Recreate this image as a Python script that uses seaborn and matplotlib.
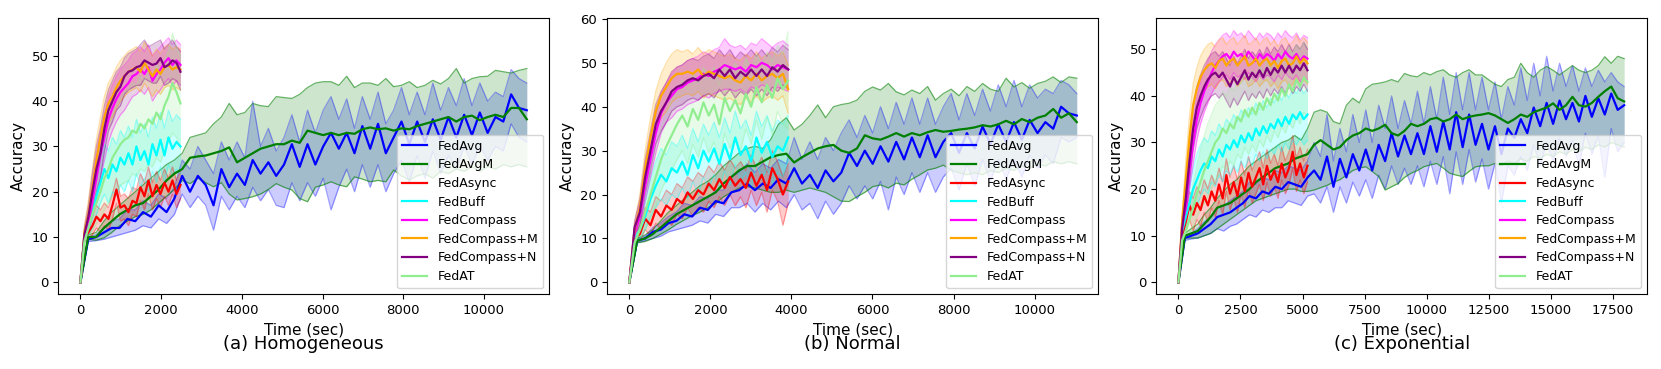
import numpy as np
import matplotlib
matplotlib.use("Agg")
import matplotlib.pyplot as plt
import seaborn as sns

METHODS = ["FedAvg", "FedAvgM", "FedAsync", "FedBuff", "FedCompass",
           "FedCompass+M", "FedCompass+N", "FedAT"]
COLORS = ["blue", "green", "red", "cyan", "magenta", "orange", "purple", "lightgreen"]
TITLES = ["(a) Homogeneous", "(b) Normal", "(c) Exponential"]
LONG_END = [11062, 11040, 17960]
SHORT_END = [2480, 3920, 5200]

# ---------------- (a) Homogeneous ----------------
H_AVG = [0, 9.5, 10, 11, 12, 12, 14, 13.5, 15.5, 14.5, 17, 15.5, 18.5, 23.5, 20, 23.5, 21.5, 17, 25, 21, 24, 21.5, 27, 24, 26.5, 23.5, 26, 30.5, 25.5, 30.5, 26, 30, 33, 29.5, 33, 28.5, 34.5, 29.5, 35, 28.5, 32, 35.5, 30.5, 35.5, 31, 36, 31.5, 36.5, 32, 37, 32.5, 37.5, 33, 36.5, 35.5, 41.5, 38.5, 38]
H_AVG_HI = [0, 10, 10.5, 12, 13.5, 14, 16, 16, 18, 17, 19.5, 18.5, 21, 27, 25, 30, 27, 24, 31, 27, 31, 27.5, 40, 30, 34, 29, 32, 37, 31, 38, 33, 38, 41, 36, 40.5, 34, 41, 36, 42, 35, 38, 43, 37, 42, 37, 44, 38, 43, 39, 45, 39, 44, 40, 42, 41, 47, 45, 44]
H_AVG_LO = [0, 9, 9.2, 9.5, 10, 10.5, 11, 11.5, 12.5, 12, 14, 13, 15, 19.5, 16.5, 19, 17, 11.5, 19, 16, 19, 16.5, 21, 18, 20.5, 17, 16.5, 22, 18, 22, 19, 23, 16, 21, 25, 20, 26, 21, 26, 20, 24, 27, 22, 28, 23, 29, 24, 28, 25, 30, 26, 30, 27, 30, 29, 35, 32, 31]
H_AVGM = [0, 10, 10, 12, 13.5, 15, 16, 17, 17.5, 19, 20.5, 22.5, 24, 25, 27.5, 27.8, 28, 28.5, 29, 29.8, 26.5, 27.5, 28.5, 29.5, 30, 30.5, 30.5, 31.3, 30.8, 33.5, 33, 32.5, 33, 32.5, 33, 32.8, 33.8, 34.2, 33.8, 34, 33.5, 34, 33.8, 34.5, 35, 35.5, 36, 36.5, 35.5, 36.5, 36.8, 35.8, 36.5, 37, 36.5, 38.5, 38.5, 36]
H_AVGM_HI = [0, 10.5, 11, 13.5, 15.5, 17, 18.5, 20, 21.5, 23, 24.5, 26, 27, 28.5, 32, 32.5, 33, 35, 36.5, 39.5, 37, 37.5, 39.5, 39, 38.8, 41, 40.8, 40.6, 41.5, 43, 44, 44.3, 44.3, 43.5, 45.5, 43, 44, 44, 43.5, 45, 43.2, 43.5, 44.3, 43, 43.5, 44.6, 43.8, 45, 47.2, 44, 45, 45.4, 45.5, 46.8, 46.5, 46.2, 46.8, 47.2]
H_AVGM_LO = [0, 9.5, 9.3, 9.8, 11, 12.5, 13.5, 14.5, 15, 16, 17.5, 19, 20.5, 22.5, 21.8, 23, 22, 21.1, 22, 19.5, 18.2, 18.5, 18.9, 19.5, 20.5, 21.8, 21, 20.4, 18.5, 17.8, 21, 21.5, 22.2, 21.5, 21.1, 23.3, 22.8, 22.2, 22.5, 22.2, 24.8, 23.5, 22.6, 23.5, 24, 23, 24.5, 24, 25, 24.5, 25.5, 24.5, 25.5, 25, 26, 25.5, 26, 25.5]
H_ASYNC = [0, 10, 11, 12.5, 14.5, 13.5, 15, 14, 17, 20.5, 16.5, 17, 15.5, 18, 17.5, 21, 19, 22.5, 19, 21.5, 19.5, 22, 20, 22.5, 19.5, 21.5]
H_ASYNC_HI = [0, 11, 12.5, 14.5, 17, 16, 17.5, 16.5, 19.5, 23, 19, 19.5, 18.5, 21, 20.5, 24, 22, 25.5, 22, 24.5, 22.5, 25, 23, 25.5, 22.5, 24.5]
H_ASYNC_LO = [0, 9, 9.5, 10.5, 12, 11, 12.5, 11.5, 14, 17.5, 13.5, 14, 12.5, 15, 14.5, 18, 16, 19.5, 16, 18.5, 16.5, 19, 17, 19.5, 16.5, 18.5]
H_BUFF = [0, 10.5, 12, 15, 19, 22, 25, 23, 26, 24.5, 27.5, 26, 28.5, 26, 30, 27, 29, 26, 30.5, 28, 31.5, 28, 32, 29.5, 31, 30]
H_BUFF_HI = [0, 11.5, 14, 18.5, 23, 27, 30.5, 29, 32, 30.5, 33.5, 32, 34.5, 32, 36, 33, 35, 32, 36.5, 34, 37.5, 34, 38, 35.5, 37, 36]
H_BUFF_LO = [0, 9.5, 10.5, 12, 15, 17.5, 19.5, 17.5, 20, 19, 21.5, 20, 22.5, 20, 24, 21, 23, 20, 24.5, 22, 25.5, 22, 26, 23.5, 25, 24]
H_COMP = [0, 10, 13, 18, 23, 28, 32, 36, 38.5, 40.5, 42, 43, 44, 45.5, 46, 47, 46, 47.5, 44.5, 46, 47, 48.5, 49.5, 48, 49, 48]
H_COMP_HI = [0, 11.5, 15.5, 22, 28, 33, 37, 41, 43.5, 45.5, 47, 48, 49, 50.5, 51, 52, 51, 52.5, 50, 51, 52, 53, 54, 52.5, 53.5, 52.5]
H_COMP_LO = [0, 9, 11, 14.5, 18.5, 23, 27, 31, 33.5, 35.5, 37, 38, 39.5, 41, 41.5, 42.5, 41.5, 43, 40, 41.5, 42.5, 44, 45, 43.5, 44.5, 43.5]
H_COMPM = [0, 11, 15, 21, 27, 32, 36.5, 39.5, 41, 43, 44.5, 45.5, 46.5, 47, 47.5, 46.5, 48.5, 47, 45.5, 47, 46, 47.5, 48, 47, 47.5, 47]
H_COMPM_HI = [0, 12.5, 18, 25, 31.5, 36.5, 41, 44, 45.5, 47.5, 49, 50, 51, 51.5, 52, 51, 53, 51.5, 50, 51.5, 50.5, 52, 52.5, 51.5, 52, 51.5]
H_COMPM_LO = [0, 9.5, 12.5, 17, 22.5, 27.5, 32, 35, 36.5, 38.5, 40, 41, 42, 42.5, 43, 42, 44, 42.5, 41, 42.5, 41.5, 43, 43.5, 42.5, 43, 42.5]
H_COMPN = [0, 10.5, 14.5, 20, 25, 28.5, 34, 38, 40, 42, 43.2, 45.5, 46.5, 46.8, 47.5, 47.8, 49, 48.5, 48, 48.3, 49.5, 47.5, 48, 49, 48.5, 46.5]
H_COMPN_HI = [0, 12, 17, 24, 30, 34, 39, 42.5, 44.5, 46.5, 47.5, 49.5, 50.5, 51, 51.5, 52.5, 53.5, 52, 52.5, 53, 53.5, 51.5, 52.5, 53.5, 52, 51]
H_COMPN_LO = [0, 9, 12, 16, 20, 23, 29, 33.5, 35.5, 38, 39, 41.5, 42.5, 43, 43.5, 43.5, 45, 44.5, 44, 44, 45.5, 43.5, 44, 45, 44.5, 42.5]
H_AT = [0, 9, 12, 15, 17.5, 20, 23, 25, 27.5, 29, 30.5, 31.5, 32, 33.5, 33, 35, 34, 36, 35, 37.5, 36, 39, 41, 44, 42, 39.5]
H_AT_HI = [0, 10, 14, 19, 23, 27, 31, 34, 37, 39, 40.5, 42, 42.5, 44, 43.5, 45.5, 44.5, 46.5, 45.5, 48, 46.5, 49, 51, 55, 52, 50]
H_AT_LO = [0, 8, 10, 11.5, 13, 14, 16, 17.5, 19, 20, 21.5, 22, 22.5, 24, 23.5, 25, 24.5, 26, 25.5, 27.5, 26.5, 29, 31, 33, 32, 29.5]

# ---------------- (b) Normal ----------------
N_AVG = [0, 9.5, 10, 11.5, 12, 13.5, 14, 15.5, 15, 17, 16.5, 18.5, 18, 20.5, 21, 22.5, 21, 22.5, 21.5, 23.5, 22.5, 26, 22.5, 24.5, 21.5, 25.5, 23, 25, 29.5, 26.5, 30, 27, 31, 27.5, 32, 28, 33, 28.5, 33.5, 28.5, 32, 34, 29.5, 34, 30.5, 35.5, 31.5, 36, 32, 36.5, 32.5, 37, 34, 36.5, 35, 40, 38.5, 38]
N_AVG_HI = [0, 10, 10.5, 12.5, 13.5, 15, 16, 18, 17.5, 19.5, 19, 21, 21, 24, 25, 27, 25, 27, 26, 28, 27, 33, 28, 32, 28, 33, 30, 34, 37, 33, 38, 34, 40, 35, 41, 36, 42, 36, 42, 36, 40, 43, 37, 43, 38, 44, 39, 45, 40, 46, 40, 45, 42, 44, 43, 46, 45, 43]
N_AVG_LO = [0, 9, 9.5, 10, 10.5, 11.5, 12, 12.5, 13, 14, 13.5, 15.5, 15, 17, 17, 18, 16, 18, 16.5, 18.5, 17, 20, 16.5, 18, 14.5, 18.5, 15.5, 18, 22, 19, 22, 19, 23, 16.5, 24, 20, 25, 20.5, 25, 20.5, 24, 26, 21, 27, 22, 28, 23, 28, 23.5, 28, 24, 29, 26, 29, 27, 33, 32, 33]
N_AVGM = [0, 9.5, 10, 11, 12.5, 14, 15.5, 16.5, 17.5, 18.5, 19.5, 20.5, 22.5, 24, 25.5, 26.5, 26.5, 27.5, 28.5, 29, 29.3, 27.3, 28.5, 29.5, 30.5, 31, 31.3, 30, 29.5, 30.5, 33.5, 32.8, 32.5, 33.2, 34, 33.2, 34, 33.5, 34.2, 34.7, 34.3, 34.5, 34.8, 35, 35.3, 35.8, 35.5, 36, 36.8, 36, 37.2, 36.5, 37.5, 38, 39.5, 37.5, 38.5, 36.5]
N_AVGM_HI = [0, 10, 10.8, 12, 14, 16, 17.5, 19, 20.5, 22, 23, 24.5, 26.5, 28, 29.5, 30.5, 31, 30.5, 32.5, 36, 37.5, 34.7, 36, 38, 40.4, 37.5, 40, 40.5, 40.8, 41.5, 43.5, 44.5, 43.8, 45.3, 43.4, 42.7, 43.8, 43, 44.6, 41.5, 43, 44, 42.5, 44.6, 43.5, 45.3, 44, 43.5, 46.5, 44.5, 45.5, 44.2, 45.3, 45.8, 46.8, 45.5, 46.8, 46.5]
N_AVGM_LO = [0, 9, 9.3, 10, 11, 12, 13.2, 14.2, 15.2, 16, 17, 18, 19.5, 20.5, 21.5, 21.8, 21.5, 21, 20.5, 20.5, 21, 20.5, 21, 21.5, 21, 20.5, 19.5, 18.5, 18.4, 19.5, 20.5, 21.8, 22.2, 21.5, 22.6, 22.2, 23.5, 24.5, 25.6, 26, 26.7, 25.5, 25, 24.5, 25, 24.5, 25.5, 25, 26, 25.5, 26.5, 26, 27, 26.5, 27.5, 27, 27.5, 27]
N_ASYNC = [0, 10, 11, 14.5, 13, 16.5, 15, 17.5, 16.5, 19, 18, 20.5, 19, 21, 20, 22.5, 21, 23.5, 21.5, 24, 22, 23.5, 21.5, 25, 22, 24.5, 21, 26, 23.5, 20, 23]
N_ASYNC_HI = [0, 11, 12.5, 17, 16, 19.5, 18.5, 21, 20, 22.5, 21.5, 24, 23, 25, 24, 26.5, 25, 27.5, 25.5, 28, 26, 27.5, 25.5, 29, 26, 28.5, 25, 30, 27.5, 24, 27]
N_ASYNC_LO = [0, 9, 9.5, 12, 10.5, 13.5, 12, 14, 13, 15.5, 14.5, 17, 15, 17, 16, 18.5, 17, 19.5, 17.5, 20, 17.5, 19.5, 17, 21, 17.5, 20.5, 16, 21, 18.5, 13, 18]
N_BUFF = [0, 10, 12, 15, 19, 22, 24.5, 23, 26, 25, 27.5, 24.5, 29, 26, 30, 27.5, 30.5, 27, 31.5, 28, 33, 29, 31, 27.5, 33, 29.5, 32, 28.5, 31, 30, 33]
N_BUFF_HI = [0, 11, 14, 18.5, 23.5, 27.5, 30.5, 29, 32, 31, 33.5, 30.5, 35, 32, 36, 33.5, 36.5, 33, 37.5, 34, 39, 35, 37, 33.5, 39, 35.5, 38, 34.5, 37, 36, 38]
N_BUFF_LO = [0, 9, 10, 12, 15, 17, 19, 17.5, 20, 19, 21.5, 19, 23, 20, 24, 21.5, 24.5, 21, 25.5, 22, 27, 23, 25, 21.5, 27, 23.5, 26, 22.5, 25, 24, 28]
N_COMP = [0, 11, 15, 22, 28, 34, 38.5, 41, 42.5, 44, 44.5, 45.5, 46, 46.5, 47.5, 47, 48, 48.5, 49.5, 49, 48.5, 49, 48, 49.5, 49, 50, 49.5, 48.5, 49.5, 49, 48.5]
N_COMP_HI = [0, 12.5, 18, 26, 32.5, 38.5, 43, 45.5, 47.5, 49, 49.5, 50.5, 51, 51.5, 52.5, 52, 53, 53.5, 55.5, 54, 53.5, 54, 53, 54.5, 54, 55.5, 54.5, 53.5, 54.5, 55, 54]
N_COMP_LO = [0, 10, 12.5, 18.5, 24, 29.5, 34, 36.5, 37.5, 39, 39.5, 40.5, 41, 41.5, 42.5, 42, 43, 43.5, 44, 44, 43.5, 44, 43, 44.5, 44, 45, 44.5, 43.5, 44.5, 44, 43.5]
N_COMPM = [0, 12, 17, 26, 33, 39, 42.5, 44.5, 46.5, 47.5, 47.5, 48, 47.5, 48.5, 47, 48, 47.5, 47, 46.5, 47, 46, 45.5, 47, 46, 47.5, 46, 47, 47.5, 46.5, 47.5, 44]
N_COMPM_HI = [0, 13.5, 20, 30, 37.5, 43.5, 47.5, 50, 52, 53, 52.5, 53, 52, 53.5, 52, 53, 52.5, 52, 51.5, 52, 51, 50.5, 52, 51, 52.5, 51, 52, 52.5, 51.5, 52.5, 49.5]
N_COMPM_LO = [0, 10.5, 14, 22, 28.5, 34.5, 37.5, 39, 41, 42, 42.5, 43, 42.5, 43.5, 42, 43, 42.5, 42, 41.5, 42, 41, 40.5, 42, 41, 42.5, 41, 42, 42.5, 41.5, 42.5, 38.5]
N_COMPN = [0, 12.5, 16, 24, 30, 36, 39, 41, 43.5, 44.5, 45, 46, 46.5, 46, 47, 47.5, 46.5, 48.5, 47, 48.5, 46.5, 48, 47, 48.5, 47, 48.5, 47, 49, 48, 49.5, 48.5]
N_COMPN_HI = [0, 14, 19, 28, 34.5, 40.5, 43.5, 45.5, 48, 49, 49.5, 50.5, 51, 50.5, 51.5, 52, 51, 53, 51.5, 53, 51, 52.5, 51.5, 53, 51.5, 53, 51.5, 53.5, 52.5, 54, 53]
N_COMPN_LO = [0, 11, 13, 20, 25.5, 31.5, 34.5, 36.5, 39, 40, 40.5, 41.5, 42, 41.5, 42.5, 43, 42, 44, 42.5, 44, 42, 43.5, 42.5, 44, 42.5, 44, 42.5, 44.5, 43.5, 45, 44]
N_AT = [0, 9, 12, 16, 20, 24, 28, 31, 33.5, 36, 38, 35.5, 39.5, 37, 41, 38, 40.5, 36, 42, 39, 41.5, 38.5, 43, 40, 44.5, 41, 45, 42, 46.5, 44, 46]
N_AT_HI = [0, 10, 14.5, 20, 25.5, 30.5, 35, 38.5, 41.5, 44, 46, 44, 47.5, 45.5, 49, 46.5, 49, 45, 50, 47.5, 50, 47, 51, 48.5, 52, 49.5, 52.5, 50.5, 54, 52, 57]
N_AT_LO = [0, 8, 10, 12, 14.5, 17.5, 21, 23.5, 25.5, 28, 30, 27, 31.5, 28.5, 33, 29.5, 32, 27, 34, 30.5, 33, 30, 35, 31.5, 37, 32.5, 37.5, 33.5, 39, 36, 35]

# ---------------- (c) Exponential ----------------
E_AVG = [0, 9.5, 10, 10.5, 11.5, 12.5, 14, 14.5, 15, 16, 17, 18.5, 18, 19.5, 19, 20.5, 20, 21.5, 21, 20.5, 22.5, 24, 22, 27, 20.5, 26.5, 22.5, 27.5, 24, 28.5, 24, 29.5, 26, 32, 27, 31.5, 27.5, 32, 27.5, 33.5, 28, 34.5, 28.5, 36.5, 29, 36, 29.5, 34, 28.5, 33.5, 27.5, 33, 31, 35, 32, 37.5, 33.5, 38.5, 34, 39, 35, 38.5, 34.5, 40, 35.5, 39.5, 36, 40.5, 37, 38]
E_AVG_HI = [0, 10, 10.5, 11.5, 13, 14, 16, 16.5, 17.5, 18.5, 19.5, 21.5, 21, 22.5, 22, 24, 23.5, 25, 24.5, 24, 26, 30, 27, 36, 26, 33, 28, 36, 30, 37, 30, 38, 33, 40, 33, 39, 34, 41, 34, 42, 35, 44, 36, 45, 37, 45, 37, 44, 37, 43, 35, 42, 38, 46, 39, 47, 40, 48.5, 41, 47, 42, 46.5, 41, 46, 42, 45.5, 43, 45, 43, 42]
E_AVG_LO = [0, 9, 9.3, 9.5, 10, 10.5, 11.5, 11, 12, 12.5, 13.5, 14.5, 14, 15.5, 15, 16, 16, 17.5, 17, 16.5, 18.5, 19, 17, 20.5, 15, 20.5, 17, 21.5, 18.5, 22, 18, 23, 20, 25, 21, 24.5, 21, 25, 20.5, 26, 21, 27, 19, 28, 21, 28.5, 21.5, 26.5, 20, 25.5, 17, 25, 23, 27, 24, 29.5, 25, 30, 26, 31, 27, 30.5, 25, 32, 27.5, 31.5, 22.5, 33, 28, 30]
E_AVGM = [0, 10, 10.5, 11, 12.5, 14, 16, 16.5, 17, 18, 19, 20, 21.5, 22.5, 23.5, 24.5, 25, 25.5, 26.5, 27, 27.5, 29.5, 30.5, 29.5, 28.5, 29, 30.5, 31.5, 32, 33, 32.5, 33, 33.8, 32, 31.5, 32.5, 34, 33.5, 34, 35, 35.3, 34.5, 35, 36, 35, 35.5, 35.8, 36, 36.3, 35.8, 35, 34.2, 35, 36, 35.5, 36.5, 37, 37.5, 38.4, 37, 38, 39.8, 38, 37.7, 38.5, 39.8, 41, 42, 39.5, 38.8]
E_AVGM_HI = [0, 10.5, 11.5, 12.5, 14.5, 16, 18, 19.5, 21, 22, 23.5, 25, 26, 27, 28, 29, 30, 30.5, 31.5, 30.5, 33, 36.5, 37, 36.5, 34.5, 34, 38, 39.5, 38.5, 41.5, 42.5, 42.7, 43, 43.5, 43, 44.8, 44.3, 44.1, 45, 44.5, 45.2, 45.6, 44.5, 44, 45, 45.6, 44.5, 44.5, 43.5, 42.5, 42, 43.5, 44, 47, 45, 44, 45.5, 46.3, 45.5, 44.5, 45.5, 46.5, 45.5, 45, 45.5, 46.5, 48.4, 47, 48.5, 48]
E_AVGM_LO = [0, 9.5, 9.5, 9.5, 10, 10.5, 11.5, 12.5, 13.5, 14.5, 15.5, 16.5, 17.5, 18, 18.5, 19, 19.5, 20, 20, 19.5, 19.5, 19.8, 20.3, 20.8, 21.5, 22, 23, 24, 24.5, 24.8, 23.8, 22.7, 19.8, 20.5, 21.2, 22.5, 23.4, 24, 24.8, 25.2, 25.5, 24.5, 23.4, 23, 22.7, 23.8, 24.8, 25, 25, 25.5, 25, 26, 25.5, 26.5, 26, 27, 26.5, 27.5, 27, 28, 27.5, 28.5, 28, 29, 28.5, 29.5, 29, 30, 29.5, 29]
E_ASYNC = [0, 10, 13, 16.5, 14.5, 17, 15.5, 18.5, 16.5, 19.5, 17.5, 21, 18, 23, 19, 21.5, 18.5, 22.5, 19.5, 23.5, 20.5, 22.5, 24.5, 21, 25, 22, 24, 21.5, 25.5, 22.5, 24.5, 28, 23, 25.5, 22.5, 25]
E_ASYNC_HI = [0, 11, 15, 19.5, 18, 20.5, 19, 22, 20, 23, 21, 24.5, 21.5, 26.5, 22.5, 25, 22, 26, 23, 27, 24, 26, 28, 24.5, 28.5, 25.5, 27.5, 25, 29, 26, 28, 31.5, 26.5, 29, 26, 28.5]
E_ASYNC_LO = [0, 9, 11, 13.5, 11, 13.5, 12, 15, 13, 16, 14, 17.5, 14.5, 19.5, 15.5, 18, 15, 19, 16, 20, 17, 19, 21, 17.5, 21.5, 18.5, 20.5, 18, 22, 19, 21, 24.5, 19.5, 22, 19, 21.5]
E_BUFF = [0, 11, 14, 17, 20, 22, 24, 25.5, 24.5, 27, 26, 28.5, 27, 29.5, 28.5, 30.5, 29, 31.5, 30, 32, 30.5, 33, 31.5, 33.5, 32, 34, 33, 35, 33.5, 35.5, 34, 36, 35, 36.5, 35, 36]
E_BUFF_HI = [0, 12, 16, 20.5, 24.5, 27.5, 29.5, 31, 30, 32.5, 31.5, 34, 32.5, 35, 34, 36, 34.5, 37, 35.5, 37.5, 36, 38.5, 37, 39, 37.5, 39.5, 38.5, 40.5, 39, 41, 39.5, 41.5, 40.5, 42, 40.5, 41.5]
E_BUFF_LO = [0, 10, 12, 13.5, 15.5, 16.5, 18.5, 20, 19, 21.5, 20.5, 23, 21.5, 24, 23, 25, 23.5, 26, 24.5, 26.5, 25, 27.5, 26, 28, 26.5, 28.5, 27.5, 29.5, 28, 30, 28.5, 30.5, 29.5, 31, 29.5, 30.5]
E_COMP = [0, 12, 16, 24, 30, 35, 38.5, 41, 43, 45, 46.5, 47.5, 48.5, 49, 48, 49.5, 48.5, 49, 48, 49.5, 48.5, 47.5, 49, 48, 49, 48.5, 47.5, 49, 48, 49.5, 48.5, 48, 49, 47.5, 48.5, 48]
E_COMP_HI = [0, 13.5, 19, 28, 34.5, 39.5, 43, 45.5, 47.5, 49.5, 51, 52, 53, 53.5, 52.5, 54, 53, 53.5, 52.5, 54, 53, 52, 53.5, 52.5, 53.5, 53, 52, 53.5, 52.5, 54, 53, 52.5, 53.5, 52, 53, 52.5]
E_COMP_LO = [0, 10.5, 13, 20, 25.5, 30.5, 34, 36.5, 38.5, 40.5, 42, 43, 44, 44.5, 43.5, 45, 44, 44.5, 43.5, 45, 44, 43, 44.5, 43.5, 44.5, 44, 43, 44.5, 43.5, 45, 44, 43.5, 44.5, 43, 44, 43.5]
E_COMPM = [0, 13, 22, 31, 38, 41.5, 44, 45.5, 46.5, 47, 46, 47.5, 48, 46.5, 47.5, 48, 46.5, 47.5, 48.5, 46.5, 47, 48, 46.5, 47.5, 48, 46.5, 47.5, 46, 47.5, 48, 46.5, 47, 48.5, 47, 48, 47]
E_COMPM_HI = [0, 14.5, 26, 35.5, 42.5, 46, 48.5, 50, 51, 51.5, 50.5, 52, 52.5, 51, 52, 52.5, 51, 52, 53, 51, 51.5, 52.5, 51, 52, 52.5, 51, 52, 50.5, 52, 52.5, 51, 51.5, 53, 51.5, 52.5, 51.5]
E_COMPM_LO = [0, 11.5, 18, 26.5, 33.5, 37, 39.5, 41, 42, 42.5, 41.5, 43, 43.5, 42, 43, 43.5, 42, 43, 44, 42, 42.5, 43.5, 42, 43, 43.5, 42, 43, 41.5, 43, 43.5, 42, 42.5, 44, 42.5, 43.5, 42.5]
E_COMPN = [0, 11.5, 18, 26, 33, 37.5, 40, 42, 43.5, 44.5, 45, 44, 45, 43.5, 42, 44, 42.5, 44, 45.5, 43.5, 45, 44, 45.5, 44, 46, 44.5, 46, 45, 46.5, 45, 46.5, 45, 46.5, 45.5, 47, 45.5]
E_COMPN_HI = [0, 13, 21, 30.5, 37.5, 42, 44.5, 46.5, 48, 49, 49.5, 48.5, 49.5, 48, 46.5, 48.5, 47, 48.5, 50, 48, 49.5, 48.5, 50, 48.5, 50.5, 49, 50.5, 49.5, 51, 49.5, 51, 49.5, 51, 50, 51.5, 50]
E_COMPN_LO = [0, 10, 15, 21.5, 28.5, 33, 35.5, 37.5, 39, 40, 40.5, 39.5, 40.5, 39, 37.5, 39.5, 38, 39.5, 41, 39, 40.5, 39.5, 41, 39.5, 41.5, 40, 41.5, 40.5, 42, 40.5, 42, 40.5, 42, 41, 42.5, 41]
E_AT = [0, 9, 11, 13.5, 16, 19, 21.5, 24, 26, 28, 30, 31, 33, 32, 34, 33, 35.5, 34.5, 37, 35.5, 37.5, 36, 38.5, 37, 39.5, 38, 40.5, 39, 41.5, 40, 42.5, 41, 43.5, 42, 44, 43]
E_AT_HI = [0, 10, 13, 17, 21, 25, 28.5, 31.5, 34, 36, 38, 39, 41, 40, 42, 41, 43.5, 42.5, 45, 43.5, 45.5, 44, 46.5, 45, 47.5, 46, 48.5, 47, 49.5, 48, 50.5, 49, 51, 50, 51.5, 50.5]
E_AT_LO = [0, 8, 9, 10.5, 12, 14, 15.5, 17, 18.5, 20, 22, 23, 25, 24, 26, 25, 27.5, 26.5, 29, 27.5, 29.5, 28, 30.5, 29, 31.5, 30, 32.5, 31, 33.5, 32, 34.5, 33, 35.5, 34, 36.5, 35.5]

SERIES = [
    [(H_AVG, H_AVG_LO, H_AVG_HI), (H_AVGM, H_AVGM_LO, H_AVGM_HI), (H_ASYNC, H_ASYNC_LO, H_ASYNC_HI),
     (H_BUFF, H_BUFF_LO, H_BUFF_HI), (H_COMP, H_COMP_LO, H_COMP_HI), (H_COMPM, H_COMPM_LO, H_COMPM_HI),
     (H_COMPN, H_COMPN_LO, H_COMPN_HI), (H_AT, H_AT_LO, H_AT_HI)],
    [(N_AVG, N_AVG_LO, N_AVG_HI), (N_AVGM, N_AVGM_LO, N_AVGM_HI), (N_ASYNC, N_ASYNC_LO, N_ASYNC_HI),
     (N_BUFF, N_BUFF_LO, N_BUFF_HI), (N_COMP, N_COMP_LO, N_COMP_HI), (N_COMPM, N_COMPM_LO, N_COMPM_HI),
     (N_COMPN, N_COMPN_LO, N_COMPN_HI), (N_AT, N_AT_LO, N_AT_HI)],
    [(E_AVG, E_AVG_LO, E_AVG_HI), (E_AVGM, E_AVGM_LO, E_AVGM_HI), (E_ASYNC, E_ASYNC_LO, E_ASYNC_HI),
     (E_BUFF, E_BUFF_LO, E_BUFF_HI), (E_COMP, E_COMP_LO, E_COMP_HI), (E_COMPM, E_COMPM_LO, E_COMPM_HI),
     (E_COMPN, E_COMPN_LO, E_COMPN_HI), (E_AT, E_AT_LO, E_AT_HI)],
]

# layout (axes placement, limits, ticks)
AX_LEFT = [0.03504, 0.3655, 0.6961]
AX_BOTTOM, AX_W, AX_H = 0.2024, 0.2957, 0.748
YLIMS = [(-2.65, 58.3), (-2.73, 60.15), (-2.58, 56.65)]
XLIMS = [(-550, 11621), (-548, 11570), (-894, 18896)]
YTICKS = [np.arange(0, 51, 10), np.arange(0, 61, 10), np.arange(0, 51, 10)]
XTICKS = [np.arange(0, 10001, 2000), np.arange(0, 10001, 2000), np.arange(0, 17501, 2500)]

fig = plt.figure(figsize=(16.61, 3.69), dpi=100)

for p in range(3):
    ax = fig.add_axes([AX_LEFT[p], AX_BOTTOM, AX_W, AX_H])
    # bands first
    for k, (name, col) in enumerate(zip(METHODS, COLORS)):
        mean, lo, hi = SERIES[p][k]
        end = LONG_END[p] if k < 2 else SHORT_END[p]
        n = min(len(lo), len(hi))
        tb = np.linspace(0, end, n)
        ax.fill_between(tb, lo[:n], hi[:n], color=col, alpha=0.2, lw=0)
        ea = 0.6 if name == "FedAvgM" else 0.35
        ax.plot(tb, lo[:n], color=col, alpha=ea, lw=0.9)
        ax.plot(tb, hi[:n], color=col, alpha=ea, lw=0.9)
    # mean lines
    for k, (name, col) in enumerate(zip(METHODS, COLORS)):
        mean = SERIES[p][k][0]
        end = LONG_END[p] if k < 2 else SHORT_END[p]
        t = np.linspace(0, end, len(mean))
        sns.lineplot(x=t, y=mean, ax=ax, color=col, lw=1.6, label=name)
    ax.set_xlim(*XLIMS[p])
    ax.set_ylim(*YLIMS[p])
    ax.set_xticks(XTICKS[p])
    ax.set_yticks(YTICKS[p])
    ax.tick_params(labelsize=9.5)
    ax.set_xlabel("Time (sec)", fontsize=11)
    ax.set_ylabel("Accuracy", fontsize=11)
    ax.legend(loc="lower right", fontsize=9, labelspacing=0.45)
    ax.text(0.5, -0.18, TITLES[p], transform=ax.transAxes, ha="center", va="center", fontsize=13)

fig.savefig("out.png", dpi=100)
